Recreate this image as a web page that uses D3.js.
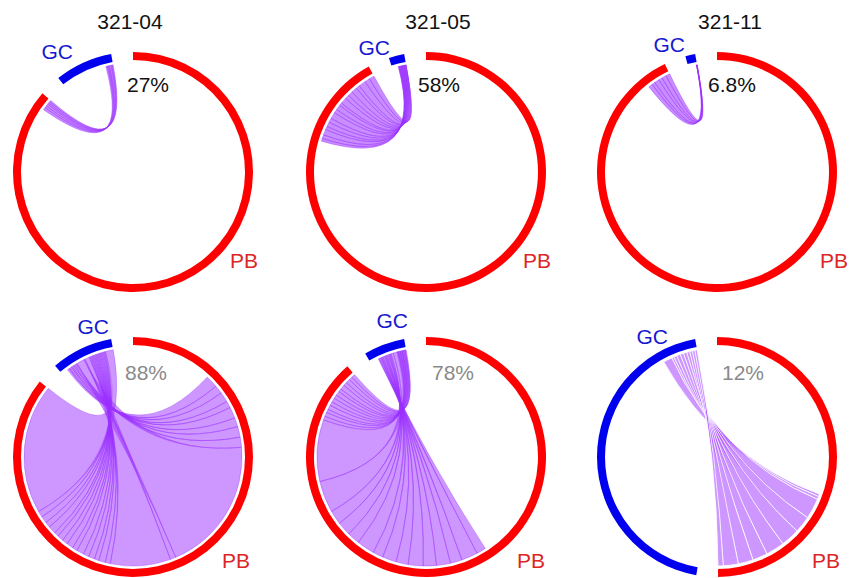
<!DOCTYPE html>
<html>
<head>
<meta charset="utf-8">
<script src="https://cdn.jsdelivr.net/npm/d3@7"></script>
<style>
  body { margin: 0; background: #fff; }
  svg text { font-family: "Liberation Sans", Arial, sans-serif; font-size: 21px; }
</style>
</head>
<body>
<div id="chart"></div>
<script>
// sample names (one per column) and the % printed in each circle
var samples = ["321-04", "321-05", "321-11"];
var percents = ["27%", "58%", "6.8%", "88%", "78%", "12%"];

// compartment sizes per panel, top row then bottom row
var pbSizes = [1110, 1324, 1400, 1030, 1280, 900];
var gcSizes = [100, 30, 20, 100, 80, 800];

// shared clones, size on the GC side
var gcShared = [
  [3, 2, 2, 3, 2, 2],
  [1, 1, 1, 1, 1, 1, 1, 1, 1, 1, 1, 1, 1, 1, 1, 1, 0.5, 0.5],
  [0.2, 0.2, 0.3, 0.2, 0.3, 0.2],
  [3, 2, 3, 2, 3, 2, 3, 2, 14, 2, 8, 2, 2, 2, 2, 2, 2, 2, 2, 2, 2, 2, 2, 2, 2, 2, 14],
  [2, 3, 2, 2, 2, 3, 2, 2, 2, 3, 2, 2, 2, 5, 8, 2, 1, 1, 2, 1, 1, 2, 1, 1, 2, 1, 2, 1, 2],
  [24, 6, 8, 10, 9, 9, 8, 7, 7, 6]
];
// shared clones, size on the PB side
var pbShared = [
  [5, 4, 4, 3, 3, 3],
  [6, 8, 12, 7, 10, 9, 14, 8, 11, 6, 13, 9, 10, 12, 8, 15, 11, 11],
  [9, 7, 11, 8, 10, 9],
  [22, 15, 18, 12, 20, 16, 19, 18, 240, 10, 107, 9, 12, 8, 11, 10, 13, 9, 12, 10, 11, 8, 14, 10, 12, 11, 230],
  [20, 35, 25, 30, 28, 32, 26, 30, 22, 38, 27, 30, 30, 68, 132, 8, 9, 7, 10, 8, 9, 8, 9, 7, 10, 8, 9, 7, 8],
  [7, 8, 55, 45, 50, 50, 40, 40, 40, 14]
];

var width = 850, height = 578;
var outerR = 120, innerR = 112, linkR = 109;
var pad = 10.5 * Math.PI / 180;

var panelX = [133, 426, 717],
    panelY = [172, 457];

// label offsets from each circle centre, placed by hand
var labelPos = [
  {title: -3, gc: [-60, -113], pb: [97, 96], pct: [-6, -80]},
  {title: 12, gc: [-36, -117], pb: [97, 96], pct: [-8, -80]},
  {title: 13, gc: [-32, -120], pb: [103, 96], pct: [-9, -80]},
  {gc: [-24, -123], pb: [89, 111], pct: [-8, -77]},
  {gc: [-18, -129], pb: [91, 111], pct: [6, -77]},
  {gc: [-49, -113], pb: [95, 111], pct: [5, -77]}
];

var svg = d3.select("#chart")
  .append("svg")
    .attr("width", width)
    .attr("height", height);

var arc = d3.arc()
    .innerRadius(innerR)
    .outerRadius(outerR);

var ribbon = d3.ribbon()
    .radius(linkR);

pbSizes.forEach(function(pb, i) {
  var gc = gcSizes[i],
      col = i % 3,
      row = Math.floor(i / 3),
      pos = labelPos[i];

  var angle = d3.scaleLinear()
      .domain([0, pb + gc])
      .range([0, 2 * Math.PI - 2 * pad]);

  var g = svg.append("g")
      .attr("transform", "translate(" + panelX[col] + "," + panelY[row] + ")");

  // shared clones sit at the clockwise end of both arcs
  var gs = pb + gc - d3.sum(gcShared[i]),
      ps = pb - d3.sum(pbShared[i]);
  var links = gcShared[i].map(function(v, j) {
    var w = pbShared[i][j];
    var l = {
      source: {startAngle: angle(gs) + pad, endAngle: angle(gs + v) + pad},
      target: {startAngle: angle(ps), endAngle: angle(ps + w)}
    };
    gs += v;
    ps += w;
    return l;
  });

  var white = (i === 5);
  g.selectAll("path.link")
    .data(links)
    .enter().append("path")
      .attr("class", "link")
      .attr("d", ribbon)
      .attr("fill", "#9b30ff")
      .attr("fill-opacity", row === 0 ? 0.55 : 0.5)
      .attr("stroke", white ? "#fff" : "#9b30ff")
      .attr("stroke-opacity", white ? 0.8 : 0.65)
      .attr("stroke-width", white ? 1 : 0.6);

  // PB and GC arcs
  g.append("path")
    .attr("d", arc({startAngle: angle(0), endAngle: angle(pb)}))
    .attr("fill", "#ff0000");
  g.append("path")
    .attr("d", arc({startAngle: angle(pb) + pad, endAngle: angle(pb + gc) + pad}))
    .attr("fill", "#0000ee");

  if (row === 0) {
    g.append("text")
      .attr("x", pos.title)
      .attr("y", 29 - panelY[0])
      .attr("text-anchor", "middle")
      .attr("fill", "#111")
      .text(samples[col]);
  }

  g.append("text")
    .attr("x", pos.gc[0])
    .attr("y", pos.gc[1])
    .attr("text-anchor", "end")
    .attr("fill", "#1818d0")
    .text("GC");

  g.append("text")
    .attr("x", pos.pb[0])
    .attr("y", pos.pb[1])
    .attr("fill", "#dd2525")
    .text("PB");

  g.append("text")
    .attr("x", pos.pct[0])
    .attr("y", pos.pct[1])
    .attr("fill", row === 0 ? "#111" : "#8a8a8a")
    .text(percents[i]);
});
</script>
</body>
</html>
